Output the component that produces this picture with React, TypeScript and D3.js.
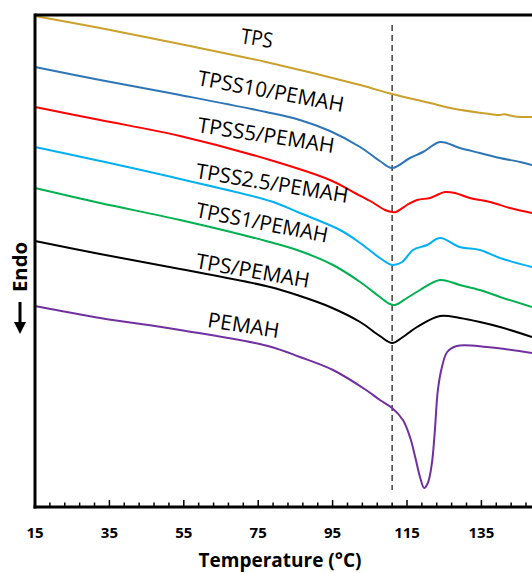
import React from "react";
import * as d3 from "d3";

// Temperature (°C) samples and heat flow (arbitrary units, curves offset)
const tpsT = [15, 32.5, 54.0, 77.1, 102.4, 111.0, 121.2, 126.6, 137.3, 140.0, 141.1, 144.0, 148.6];
const tpsV = [49.1, 47.9, 46.3, 44.5, 42.2, 41.3, 40.4, 39.9, 39.3, 39.2, 39.28, 39.05, 39.0];

const tpss10T = [15, 32.5, 54.0, 77.1, 86.2, 94.3, 102.4, 107.7, 111.0, 115.8, 119.3, 123.9, 129.2, 134.6, 140.0, 145.4, 148.6];
const tpss10V = [44.0, 42.7, 41.2, 39.5, 38.7, 37.6, 36.0, 34.6, 33.9, 34.9, 35.5, 36.5, 35.9, 35.4, 34.9, 34.5, 34.2];

const tpss5T = [15, 32.5, 54.0, 78.2, 94.3, 101.0, 105.1, 109.1, 111.0, 112.0, 115.0, 117.7, 121.2, 123.1, 125.2, 127.9, 131.9, 137.3, 142.7, 148.6];
const tpss5V = [40.0, 38.7, 37.1, 34.7, 32.7, 31.4, 30.6, 29.7, 29.5, 29.5, 30.2, 30.7, 30.9, 31.2, 31.5, 31.4, 30.9, 30.5, 29.9, 29.4];

const tpss25T = [15, 32.5, 54.0, 78.2, 86.2, 97.0, 102.4, 107.7, 111.0, 113.7, 116.6, 120.4, 123.9, 129.2, 134.6, 140.0, 148.6];
const tpss25V = [36.0, 34.6, 32.8, 30.6, 29.4, 27.7, 26.4, 24.9, 24.2, 24.5, 25.7, 26.2, 26.9, 26.0, 25.7, 24.9, 24.0];

const tpss1T = [15, 32.5, 54.0, 77.1, 86.2, 95.1, 102.4, 107.7, 110.4, 111.8, 115.0, 118.5, 123.9, 129.2, 134.6, 140.0, 148.6];
const tpss1V = [31.9, 30.4, 28.7, 26.6, 25.6, 24.2, 22.5, 21.0, 20.3, 20.2, 20.9, 21.7, 22.7, 22.2, 21.7, 21.0, 20.0];

const tpsPemahT = [15, 32.5, 54.0, 78.2, 86.2, 94.3, 102.4, 107.7, 111.0, 113.9, 117.7, 123.9, 129.2, 134.6, 140.0, 148.6];
const tpsPemahV = [26.6, 25.3, 23.8, 22.0, 21.1, 20.0, 18.5, 17.1, 16.4, 17.0, 18.0, 19.1, 18.9, 18.5, 18.0, 17.0];

const pemahT = [15, 32.5, 54.0, 77.6, 86.2, 95.1, 104.0, 107.7, 111.0, 113.9, 115.8, 117.2, 118.5, 119.6, 120.6, 121.7, 122.5, 123.3, 124.4, 125.8, 128.4, 136.5, 148.6];
const pemahV = [20.1, 18.9, 17.7, 16.1, 15.0, 13.7, 11.7, 10.7, 9.9, 8.7, 7.0, 5.0, 3.0, 1.9, 2.4, 4.4, 7.7, 11.7, 14.0, 15.5, 16.1, 16.0, 15.4];

const seriesNames = ["TPS", "TPSS10/PEMAH", "TPSS5/PEMAH", "TPSS2.5/PEMAH", "TPSS1/PEMAH", "TPS/PEMAH", "PEMAH"];
const seriesColors = ["#C9A12C", "#2E75B6", "#FF0000", "#00B0F0", "#00B050", "#000000", "#7030A0"];
const seriesT = [tpsT, tpss10T, tpss5T, tpss25T, tpss1T, tpsPemahT, pemahT];
const seriesV = [tpsV, tpss10V, tpss5V, tpss25V, tpss1V, tpsPemahV, pemahV];

// label anchors (temperature, value, rotation deg, text length)
const labelT = [70.1, 58.5, 58.5, 58.0, 58.0, 58.0, 61.2];
const labelV = [46.4, 42.2, 37.5, 32.9, 29.0, 23.9, 18.0];
const labelAngle = [9, 10.5, 8.8, 9.3, 11, 10, 8.8];
const labelLen = [32, 148, 138, 154, 134, 115, 72];

const xTicks = d3.range(15, 156, 4);
const xMajorStep = 20;
const markerTemp = 111.0;

const W = 532;
const H = 573;

export default function App() {
  const x = d3.scaleLinear().domain([15, 155]).range([35, 35 + 140 * 3.72]);
  const y = d3.scaleLinear().domain([0, 49.2]).range([507, 15]);
  const line = d3
    .line<[number, number]>()
    .x((d) => x(d[0]))
    .y((d) => y(d[1]))
    .curve(d3.curveCatmullRom.alpha(0.5));

  const font = "'Open Sans', 'Liberation Sans', sans-serif";

  return (
    <div style={{ position: "absolute", left: 0, top: 0 }}>
      <svg width={W} height={H} style={{ display: "block", background: "#fff" }}>
        {/* dashed marker */}
        <line
          x1={x(markerTemp)}
          x2={x(markerTemp)}
          y1={25}
          y2={490}
          stroke="#222"
          strokeWidth={1.3}
          strokeDasharray="6,4"
        />
        {/* curves */}
        {seriesNames.map((n, i) => {
          const pts = seriesT[i].map((t, j) => [t, seriesV[i][j]] as [number, number]);
          return (
            <path
              key={n}
              d={line(pts) || ""}
              fill="none"
              stroke={seriesColors[i]}
              strokeWidth={2}
              strokeLinejoin="round"
            />
          );
        })}
        {/* labels */}
        {seriesNames.map((n, i) => {
          const lx = x(labelT[i]);
          const ly = y(labelV[i]);
          return (
            <text
              key={"l" + n}
              x={lx}
              y={ly}
              transform={`rotate(${labelAngle[i]},${lx},${ly})`}
              fontFamily={font}
              fontSize={21}
              fill="#000"
              textLength={labelLen[i]}
              lengthAdjust="spacingAndGlyphs"
            >
              {n}
            </text>
          );
        })}
        {/* frame */}
        <line x1={35} x2={W} y1={15} y2={15} stroke="#000" strokeWidth={3} />
        <line x1={35} x2={35} y1={13.5} y2={508.5} stroke="#000" strokeWidth={3} />
        <line x1={33.5} x2={W} y1={507} y2={507} stroke="#000" strokeWidth={3} />
        {/* ticks */}
        {xTicks.map((t) => {
          const major = (t - 15) % xMajorStep === 0;
          return (
            <line
              key={"t" + t}
              x1={x(t)}
              x2={x(t)}
              y1={507}
              y2={507 - (major ? 7 : 4.5)}
              stroke="#000"
              strokeWidth={1.5}
            />
          );
        })}
        {xTicks
          .filter((t) => (t - 15) % xMajorStep === 0 && x(t) < W - 10)
          .map((t) => (
            <text
              key={"tl" + t}
              x={x(t)}
              y={538}
              textAnchor="middle"
              fontFamily={font}
              fontWeight="bold"
              fontSize={15}
              fill="#000"
            >
              {t}
            </text>
          ))}
        <text
          x={280}
          y={567}
          textAnchor="middle"
          fontFamily={font}
          fontWeight="bold"
          fontSize={19}
          fill="#000"
          textLength={163}
          lengthAdjust="spacingAndGlyphs"
        >
          Temperature (°C)
        </text>
        {/* y label */}
        <text
          transform="translate(27,267) rotate(-90)"
          textAnchor="middle"
          fontFamily={font}
          fontWeight="bold"
          fontSize={20}
          fill="#000"
          textLength={50}
          lengthAdjust="spacingAndGlyphs"
        >
          Endo
        </text>
        <line x1={20} x2={20} y1={302} y2={323} stroke="#000" strokeWidth={3} />
        <path d="M14,322 L26,322 L20,334 Z" fill="#000" />
      </svg>
    </div>
  );
}
